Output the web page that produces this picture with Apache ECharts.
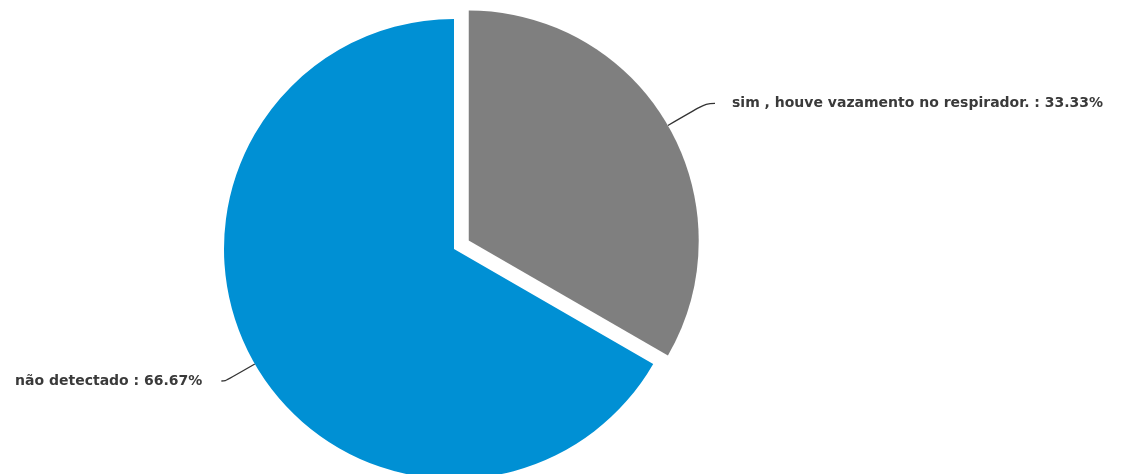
<!DOCTYPE html>
<html>
<head>
<meta charset="utf-8">
<script src="https://cdn.jsdelivr.net/npm/echarts@6/dist/echarts.min.js"></script>
<style>
  html, body { margin: 0; padding: 0; background: #ffffff; }
  #chart { width: 1128px; height: 474px; }
</style>
</head>
<body>
<div id="chart"></div>
<script>
// Answer categories and their shares (%)
const categories = ['sim , houve vazamento no respirador.', 'não detectado'];
const shares = [33.33, 66.67];
const colors = ['#7f7f7f', '#0090d4'];

const chart = echarts.init(document.getElementById('chart'), null, { renderer: 'canvas' });

const data = categories.map((name, i) => ({
  name: name,
  value: shares[i],
  selected: i === 0,
  itemStyle: { color: colors[i] },
  label: { distanceToLabelLine: i === 0 ? 17 : 19 },
  labelLine: i === 0
    ? { length: 44, length2: 9, smooth: 0.4 }
    : { length: 34, length2: 4, smooth: 0.4 }
}));

chart.setOption({
  animation: false,
  backgroundColor: '#ffffff',
  series: [{
    type: 'pie',
    center: [454, 249],
    radius: 230,
    startAngle: 90,
    clockwise: true,
    selectedMode: 'single',
    selectedOffset: 17,
    avoidLabelOverlap: false,
    emphasis: { disabled: true },
    label: {
      show: true,
      formatter: '{b} : {c}%',
      fontFamily: 'DejaVu Sans',
      fontWeight: 'bold',
      fontSize: 14,
      color: '#3a3a3a'
    },
    labelLine: {
      show: true,
      lineStyle: { color: '#333333', width: 1.3 }
    },
    data: data
  }]
});
</script>
</body>
</html>
